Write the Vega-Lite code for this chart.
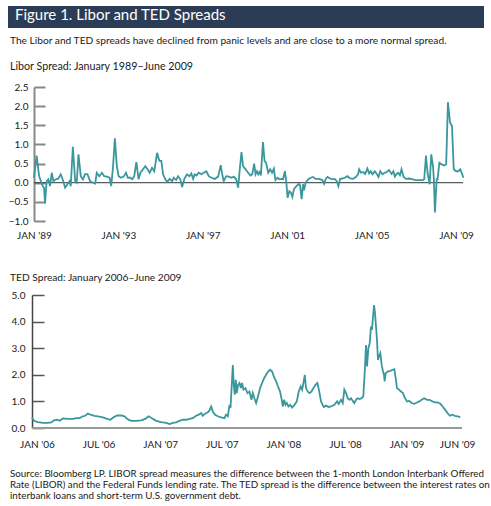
{
  "$schema": "https://vega.github.io/schema/vega-lite/v6.json",
  "padding": {"left": 8, "top": 6, "right": 0, "bottom": 0},
  "background": "white",
  "config": {"view": {"stroke": null}, "font": "Lato, Roboto, sans-serif"},
  "datasets": {
    "libor": [
      {"t":1989.000,"v":0.13},{"t":1989.125,"v":0.71},{"t":1989.242,"v":0.17},{"t":1989.333,"v":0.04},{"t":1989.408,"v":-0.09},{"t":1989.475,"v":-0.13},{"t":1989.525,"v":-0.54},{"t":1989.600,"v":0.04},{"t":1989.683,"v":0.09},{"t":1989.758,"v":-0.09},{"t":1989.842,"v":0.26},{"t":1989.917,"v":0.04},
      {"t":1990.033,"v":0.09},{"t":1990.158,"v":0.11},{"t":1990.267,"v":0.22},{"t":1990.358,"v":0.09},{"t":1990.475,"v":-0.13},{"t":1990.583,"v":-0.04},{"t":1990.683,"v":0.04},{"t":1990.742,"v":-0.09},{"t":1990.842,"v":0.94},{"t":1990.950,"v":0.04},
      {"t":1991.025,"v":0.0},{"t":1991.108,"v":0.74},{"t":1991.217,"v":0.17},{"t":1991.317,"v":0.09},{"t":1991.425,"v":0.23},{"t":1991.533,"v":0.22},{"t":1991.658,"v":0.04},{"t":1991.792,"v":0.0},{"t":1991.900,"v":-0.02},{"t":1991.975,"v":0.26},
      {"t":1992.092,"v":0.17},{"t":1992.217,"v":0.26},{"t":1992.325,"v":0.17},{"t":1992.450,"v":0.16},{"t":1992.583,"v":0.13},{"t":1992.658,"v":-0.09},{"t":1992.742,"v":0.39},{"t":1992.833,"v":1.16},{"t":1992.925,"v":0.43},
      {"t":1993.008,"v":0.17},{"t":1993.117,"v":0.13},{"t":1993.250,"v":0.16},{"t":1993.358,"v":0.26},{"t":1993.450,"v":0.13},{"t":1993.567,"v":0.13},{"t":1993.658,"v":0.09},{"t":1993.750,"v":0.17},{"t":1993.850,"v":0.54},{"t":1993.958,"v":0.09},
      {"t":1994.042,"v":0.26},{"t":1994.167,"v":0.35},{"t":1994.275,"v":0.43},{"t":1994.383,"v":0.35},{"t":1994.483,"v":0.26},{"t":1994.592,"v":0.39},{"t":1994.700,"v":0.30},{"t":1994.833,"v":0.78},{"t":1994.942,"v":0.57},
      {"t":1995.033,"v":0.57},{"t":1995.117,"v":0.22},{"t":1995.225,"v":0.09},{"t":1995.308,"v":0.02},{"t":1995.433,"v":0.10},{"t":1995.542,"v":0.04},{"t":1995.625,"v":0.13},{"t":1995.733,"v":0.07},{"t":1995.825,"v":0.17},{"t":1995.933,"v":0.09},
      {"t":1996.017,"v":-0.11},{"t":1996.125,"v":0.10},{"t":1996.250,"v":0.22},{"t":1996.367,"v":0.17},{"t":1996.458,"v":0.24},{"t":1996.542,"v":0.10},{"t":1996.617,"v":0.22},{"t":1996.700,"v":0.19},{"t":1996.808,"v":0.26},{"t":1996.933,"v":0.22},
      {"t":1997.042,"v":0.26},{"t":1997.167,"v":0.30},{"t":1997.283,"v":0.17},{"t":1997.408,"v":0.13},{"t":1997.567,"v":0.10},{"t":1997.725,"v":0.16},{"t":1997.850,"v":0.46},{"t":1997.917,"v":0.22},{"t":1997.992,"v":0.04},
      {"t":1998.108,"v":0.17},{"t":1998.233,"v":0.16},{"t":1998.358,"v":0.13},{"t":1998.467,"v":0.16},{"t":1998.583,"v":0.09},{"t":1998.675,"v":-0.13},{"t":1998.750,"v":0.35},{"t":1998.833,"v":0.80},{"t":1998.908,"v":0.43},
      {"t":1999.025,"v":0.35},{"t":1999.150,"v":0.26},{"t":1999.258,"v":0.19},{"t":1999.342,"v":0.22},{"t":1999.433,"v":0.50},{"t":1999.500,"v":0.22},{"t":1999.567,"v":0.30},{"t":1999.625,"v":0.22},{"t":1999.692,"v":0.28},{"t":1999.750,"v":0.19},{"t":1999.850,"v":1.06},{"t":1999.925,"v":0.57},
      {"t":2000.000,"v":0.52},{"t":2000.100,"v":0.26},{"t":2000.192,"v":0.35},{"t":2000.283,"v":0.26},{"t":2000.367,"v":0.37},{"t":2000.442,"v":0.07},{"t":2000.542,"v":0.13},{"t":2000.633,"v":0.09},{"t":2000.733,"v":0.10},{"t":2000.800,"v":0.09},{"t":2000.892,"v":0.30},{"t":2000.958,"v":0.0},
      {"t":2001.017,"v":-0.39},{"t":2001.100,"v":-0.22},{"t":2001.175,"v":-0.26},{"t":2001.242,"v":-0.37},{"t":2001.317,"v":-0.17},{"t":2001.433,"v":-0.09},{"t":2001.558,"v":-0.03},{"t":2001.608,"v":-0.07},{"t":2001.683,"v":-0.43},{"t":2001.750,"v":-0.04},{"t":2001.792,"v":-0.20},{"t":2001.875,"v":0.0},
      {"t":2002.000,"v":0.09},{"t":2002.117,"v":0.13},{"t":2002.225,"v":0.15},{"t":2002.350,"v":0.10},{"t":2002.508,"v":0.10},{"t":2002.667,"v":0.07},{"t":2002.750,"v":-0.03},{"t":2002.825,"v":0.10},{"t":2002.908,"v":0.15},
      {"t":2003.033,"v":0.11},{"t":2003.142,"v":0.09},{"t":2003.250,"v":0.10},{"t":2003.350,"v":0.04},{"t":2003.425,"v":-0.09},{"t":2003.508,"v":0.10},{"t":2003.617,"v":0.11},{"t":2003.725,"v":0.13},{"t":2003.850,"v":0.17},{"t":2003.983,"v":0.11},
      {"t":2004.125,"v":0.10},{"t":2004.250,"v":0.15},{"t":2004.358,"v":0.22},{"t":2004.408,"v":0.35},{"t":2004.492,"v":0.26},{"t":2004.600,"v":0.28},{"t":2004.692,"v":0.23},{"t":2004.800,"v":0.37},{"t":2004.883,"v":0.24},{"t":2004.958,"v":0.30},
      {"t":2005.042,"v":0.22},{"t":2005.150,"v":0.30},{"t":2005.242,"v":0.23},{"t":2005.325,"v":0.15},{"t":2005.408,"v":0.30},{"t":2005.517,"v":0.22},{"t":2005.625,"v":0.26},{"t":2005.717,"v":0.28},{"t":2005.825,"v":0.33},{"t":2005.942,"v":0.23},
      {"t":2006.033,"v":0.30},{"t":2006.100,"v":0.16},{"t":2006.183,"v":0.23},{"t":2006.258,"v":0.26},{"t":2006.342,"v":0.19},{"t":2006.417,"v":0.35},{"t":2006.517,"v":0.15},{"t":2006.625,"v":0.10},{"t":2006.783,"v":0.11},{"t":2006.942,"v":0.09},
      {"t":2007.100,"v":0.07},{"t":2007.258,"v":0.07},{"t":2007.417,"v":0.07},{"t":2007.492,"v":0.09},{"t":2007.575,"v":0.71},{"t":2007.650,"v":0.26},{"t":2007.750,"v":-0.04},{"t":2007.825,"v":0.74},{"t":2007.908,"v":0.43},{"t":2007.950,"v":0.09},
      {"t":2008.000,"v":-0.78},{"t":2008.083,"v":0.09},{"t":2008.125,"v":0.09},{"t":2008.208,"v":0.52},{"t":2008.317,"v":0.48},{"t":2008.442,"v":0.45},{"t":2008.533,"v":0.48},{"t":2008.617,"v":2.10},{"t":2008.717,"v":1.57},{"t":2008.808,"v":1.48},{"t":2008.892,"v":0.35},
      {"t":2009.000,"v":0.30},{"t":2009.108,"v":0.30},{"t":2009.200,"v":0.35},{"t":2009.267,"v":0.26},{"t":2009.350,"v":0.13}
    ],
    "ted": [
      {"t":2005.959,"v":0.40},{"t":2005.976,"v":0.27},{"t":2006.008,"v":0.22},{"t":2006.049,"v":0.19},{"t":2006.089,"v":0.19},{"t":2006.116,"v":0.21},{"t":2006.138,"v":0.29},{"t":2006.165,"v":0.31},{"t":2006.184,"v":0.27},{"t":2006.211,"v":0.36},
      {"t":2006.251,"v":0.34},{"t":2006.292,"v":0.34},{"t":2006.319,"v":0.37},{"t":2006.346,"v":0.37},{"t":2006.373,"v":0.44},{"t":2006.392,"v":0.46},{"t":2006.414,"v":0.54},{"t":2006.441,"v":0.49},{"t":2006.468,"v":0.46},{"t":2006.495,"v":0.44},
      {"t":2006.535,"v":0.40},{"t":2006.570,"v":0.34},{"t":2006.597,"v":0.31},{"t":2006.624,"v":0.41},{"t":2006.652,"v":0.47},{"t":2006.684,"v":0.47},{"t":2006.711,"v":0.44},{"t":2006.733,"v":0.34},{"t":2006.765,"v":0.27},{"t":2006.806,"v":0.27},
      {"t":2006.846,"v":0.29},{"t":2006.879,"v":0.34},{"t":2006.906,"v":0.44},{"t":2006.933,"v":0.37},{"t":2006.968,"v":0.27},{"t":2007.008,"v":0.22},{"t":2007.049,"v":0.19},{"t":2007.076,"v":0.15},{"t":2007.103,"v":0.19},{"t":2007.130,"v":0.21},
      {"t":2007.157,"v":0.27},{"t":2007.184,"v":0.31},{"t":2007.211,"v":0.31},{"t":2007.238,"v":0.34},{"t":2007.265,"v":0.37},{"t":2007.292,"v":0.46},{"t":2007.314,"v":0.50},{"t":2007.333,"v":0.56},{"t":2007.346,"v":0.46},{"t":2007.365,"v":0.54},
      {"t":2007.387,"v":0.59},{"t":2007.400,"v":0.66},{"t":2007.414,"v":0.81},{"t":2007.427,"v":0.62},{"t":2007.446,"v":0.50},{"t":2007.468,"v":0.44},{"t":2007.495,"v":0.40},{"t":2007.522,"v":0.37},{"t":2007.535,"v":0.50},{"t":2007.549,"v":0.44},
      {"t":2007.563,"v":0.87},{"t":2007.571,"v":0.75},{"t":2007.579,"v":1.44},{"t":2007.590,"v":2.37},{"t":2007.598,"v":1.56},{"t":2007.606,"v":1.25},{"t":2007.614,"v":1.81},{"t":2007.622,"v":1.31},{"t":2007.633,"v":1.62},{"t":2007.644,"v":1.69},
      {"t":2007.655,"v":1.50},{"t":2007.665,"v":1.69},{"t":2007.676,"v":1.44},{"t":2007.692,"v":1.50},{"t":2007.709,"v":1.31},{"t":2007.725,"v":1.37},{"t":2007.741,"v":1.06},{"t":2007.752,"v":1.31},{"t":2007.765,"v":1.12},{"t":2007.779,"v":0.94},
      {"t":2007.795,"v":1.19},{"t":2007.811,"v":1.50},{"t":2007.827,"v":1.69},{"t":2007.844,"v":1.87},{"t":2007.860,"v":2.00},{"t":2007.876,"v":2.12},{"t":2007.892,"v":2.19},{"t":2007.909,"v":2.12},{"t":2007.925,"v":1.91},{"t":2007.941,"v":1.75},
      {"t":2007.957,"v":1.56},{"t":2007.973,"v":1.37},{"t":2007.987,"v":1.06},{"t":2007.995,"v":0.81},{"t":2008.006,"v":1.06},{"t":2008.017,"v":0.87},{"t":2008.028,"v":0.94},{"t":2008.041,"v":0.81},{"t":2008.055,"v":0.87},{"t":2008.071,"v":0.77},
      {"t":2008.090,"v":0.87},{"t":2008.109,"v":1.00},{"t":2008.125,"v":1.37},{"t":2008.141,"v":1.56},{"t":2008.152,"v":1.44},{"t":2008.163,"v":1.69},{"t":2008.174,"v":2.00},{"t":2008.184,"v":1.50},{"t":2008.198,"v":1.37},{"t":2008.211,"v":1.31},
      {"t":2008.228,"v":1.37},{"t":2008.244,"v":1.50},{"t":2008.260,"v":1.62},{"t":2008.276,"v":1.69},{"t":2008.290,"v":1.40},{"t":2008.306,"v":1.00},{"t":2008.319,"v":0.87},{"t":2008.328,"v":0.79},{"t":2008.347,"v":0.84},{"t":2008.366,"v":0.79},
      {"t":2008.387,"v":0.81},{"t":2008.414,"v":0.87},{"t":2008.436,"v":1.00},{"t":2008.449,"v":0.90},{"t":2008.468,"v":1.06},{"t":2008.482,"v":0.94},{"t":2008.495,"v":1.44},{"t":2008.509,"v":1.31},{"t":2008.522,"v":1.12},{"t":2008.536,"v":1.06},
      {"t":2008.549,"v":1.12},{"t":2008.566,"v":1.00},{"t":2008.576,"v":0.94},{"t":2008.590,"v":1.06},{"t":2008.603,"v":1.12},{"t":2008.619,"v":1.09},{"t":2008.636,"v":1.12},{"t":2008.649,"v":1.19},{"t":2008.660,"v":2.06},{"t":2008.671,"v":3.12},
      {"t":2008.679,"v":2.31},{"t":2008.690,"v":3.00},{"t":2008.701,"v":3.19},{"t":2008.711,"v":3.81},{"t":2008.719,"v":3.69},{"t":2008.728,"v":4.19},{"t":2008.736,"v":4.62},{"t":2008.744,"v":4.31},{"t":2008.752,"v":3.81},{"t":2008.760,"v":3.31},
      {"t":2008.768,"v":2.56},{"t":2008.776,"v":2.69},{"t":2008.787,"v":2.81},{"t":2008.798,"v":2.37},{"t":2008.809,"v":2.12},{"t":2008.817,"v":2.00},{"t":2008.822,"v":1.75},{"t":2008.830,"v":2.06},{"t":2008.847,"v":2.12},{"t":2008.868,"v":2.15},
      {"t":2008.887,"v":2.19},{"t":2008.901,"v":2.21},{"t":2008.912,"v":1.87},{"t":2008.922,"v":1.50},{"t":2008.939,"v":1.44},{"t":2008.955,"v":1.37},{"t":2008.971,"v":1.31},{"t":2008.987,"v":1.12},{"t":2009.004,"v":1.00},{"t":2009.022,"v":1.02},
      {"t":2009.041,"v":0.94},{"t":2009.063,"v":0.91},{"t":2009.085,"v":0.96},{"t":2009.103,"v":1.00},{"t":2009.122,"v":1.06},{"t":2009.144,"v":1.12},{"t":2009.166,"v":1.06},{"t":2009.187,"v":1.06},{"t":2009.209,"v":1.00},{"t":2009.231,"v":0.96},
      {"t":2009.252,"v":0.96},{"t":2009.274,"v":0.91},{"t":2009.293,"v":0.81},{"t":2009.312,"v":0.69},{"t":2009.333,"v":0.56},{"t":2009.352,"v":0.46},{"t":2009.371,"v":0.50},{"t":2009.393,"v":0.46},{"t":2009.414,"v":0.44},{"t":2009.436,"v":0.41}
    ]
  },
  "spacing": 8,
  "vconcat": [
    {
      "width": 476,
      "height": 22,
      "view": {"fill": "#2b3d56", "stroke": null},
      "data": {"values": []},
      "mark": "point",
      "title": {"text": "Figure 1. Libor and TED Spreads", "orient": "top", "anchor": "start", "frame": "group", "offset": -17, "dx": 7, "color": "white", "fontSize": 15, "fontWeight": "normal"}
    },
    {
      "spacing": 20,
      "vconcat": [
        {
          "spacing": 32,
          "vconcat": [
            {
              "width": 455,
              "height": 134,
              "title": {
                "text": "The Libor and TED spreads have declined from panic levels and are close to a more normal spread.",
                "subtitle": "Libor Spread: January 1989–June 2009",
                "anchor": "start", "frame": "group", "dx": 2, "offset": 10,
                "fontSize": 10.2, "fontWeight": "normal", "color": "#1a1a1a",
                "subtitleFontSize": 10.7, "subtitleColor": "#1a1a1a", "subtitlePadding": 16
              },
              "layer": [
                {
                  "data": {"values": [{"zero": 0}]},
                  "mark": {"type": "rule", "color": "#333333", "strokeWidth": 1},
                  "encoding": {
                    "y": {"field": "zero", "type": "quantitative",
                      "scale": {"domain": [-1, 2.5], "nice": false, "zero": false},
                      "axis": {"title": null, "offset": -26, "values": [-1, -0.5, 0, 0.5, 1, 1.5, 2, 2.5], "tickCount": 20, "format": ".1f", "grid": false, "domainColor": "#888888", "domainWidth": 2, "tickColor": "#888888", "tickWidth": 2, "tickSize": -11, "labelPadding": 17, "labelFontSize": 10, "labelColor": "#1a1a1a", "labelOverlap": false}},
                    "x": {"datum": 1989, "type": "quantitative",
                      "scale": {"domain": [1987.768, 2009.33], "nice": false, "zero": false},
                      "axis": {"title": null, "values": [1989, 1993, 1997, 2001, 2005, 2009], "tickCount": 20, "labelExpr": "\"JAN '\" + substring(toString(datum.value), 2, 4)", "domain": false, "ticks": false, "grid": false, "labelPadding": 9, "labelFontSize": 10, "labelColor": "#1a1a1a", "labelFlush": false, "labelOverlap": false, "labelBound": false}},
                    "x2": {"datum": 2009.33}
                  }
                },
                {
                  "data": {"name": "libor"},
                  "mark": {"type": "line", "color": "#3a979c", "strokeWidth": 1.8},
                  "encoding": {
                    "x": {"field": "t", "type": "quantitative"},
                    "y": {"field": "v", "type": "quantitative"}
                  }
                }
              ]
            },
            {
              "width": 454,
              "height": 133,
              "title": {
                "text": "TED Spread: January 2006–June 2009",
                "anchor": "start", "frame": "group", "dx": 2, "offset": 7,
                "fontSize": 10.2, "fontWeight": "normal", "color": "#1a1a1a"
              },
              "layer": [
                {
                  "data": {"values": [{"zero": 0}]},
                  "mark": {"type": "rule", "color": "#999999", "strokeWidth": 2},
                  "encoding": {
                    "y": {"field": "zero", "type": "quantitative",
                      "scale": {"domain": [0, 5], "nice": false},
                      "axis": {"title": null, "offset": -24, "values": [0, 1, 2, 3, 4, 5], "tickCount": 20, "format": ".1f", "grid": false, "domainColor": "#444444", "domainWidth": 1.5, "tickColor": "#555555", "tickWidth": 1.5, "tickSize": -12, "labelPadding": 19, "labelFontSize": 10, "labelColor": "#1a1a1a", "labelOverlap": false}},
                    "x": {"datum": 2005.96, "type": "quantitative",
                      "scale": {"domain": [2005.765, 2009.45], "nice": false, "zero": false},
                      "axis": {"title": null, "values": [2006, 2006.5, 2007, 2007.5, 2008, 2008.5, 2009, 2009.41], "tickCount": 20, "labelExpr": "(datum.value == 2009.41 ? 'JUN' : (datum.value % 1 == 0 ? 'JAN' : 'JUL')) + \" '\" + substring(toString(floor(datum.value)), 2, 4)", "domain": false, "ticks": false, "grid": false, "labelPadding": 11, "labelFontSize": 10, "labelColor": "#1a1a1a", "labelFlush": false, "labelOverlap": false, "labelBound": false}},
                    "x2": {"datum": 2009.45}
                  }
                },
                {
                  "data": {"name": "ted"},
                  "mark": {"type": "line", "color": "#3a979c", "strokeWidth": 1.8},
                  "encoding": {
                    "x": {"field": "t", "type": "quantitative"},
                    "y": {"field": "v", "type": "quantitative"}
                  }
                }
              ]
            }
          ]
        },
        {
          "width": 476,
          "height": 1,
          "data": {"values": []},
          "mark": "point",
          "title": {
            "text": ["Source: Bloomberg LP. LIBOR spread measures the difference between the 1-month London Interbank Offered", "Rate (LIBOR) and the Federal Funds lending rate. The TED spread is the difference between the interest rates on", "interbank loans and short-term U.S. government debt."],
            "anchor": "start", "frame": "group", "dx": 2, "offset": 0,
            "fontSize": 9.8, "fontWeight": "normal", "color": "#1a1a1a", "lineHeight": 11
          }
        }
      ]
    }
  ]
}
